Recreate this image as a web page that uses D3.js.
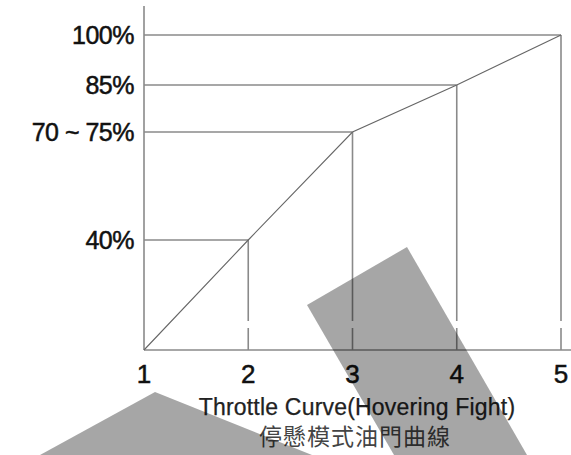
<!DOCTYPE html>
<html><head><meta charset="utf-8">
<script src="https://cdn.jsdelivr.net/npm/d3@7"></script>
<style>
html,body{margin:0;padding:0;background:#fff;}
svg{display:block;}
</style></head>
<body>
<script>
// Data
const steps = [1, 2, 3, 4, 5];
const throttle = [0, 40, 72.5, 85, 100];
const yLabels = ["", "40%", "70 ~ 75%", "85%", "100%"];
const xTickLabels = ["1", "2", "3", "4", "5"];
const titleEn = "Throttle Curve(Hovering Fight)";
const titleZh = "停懸模式油門曲線";

const W = 571, H = 455;
const svg = d3.select("body").append("svg").attr("width", W).attr("height", H);

const x = d3.scaleLinear().domain([1, 5]).range([144, 561]);
// schematic (non-uniform) vertical scale as drawn in the reference
const y = d3.scaleLinear().domain([0, 40, 72.5, 85, 100]).range([350, 240, 132, 85, 35]);

const pts = steps.map((s, i) => ({ s, v: throttle[i], label: yLabels[i] }));
const lineCol = "#8a8a8a";
const font = "'Liberation Sans', Arial, Helvetica, sans-serif";

// axes (drawn as plain lines)
svg.append("line").attr("x1", x(1)).attr("x2", W).attr("y1", y(0)).attr("y2", y(0))
  .attr("stroke", lineCol).attr("stroke-width", 1.6);
svg.append("line").attr("x1", x(1)).attr("x2", x(1)).attr("y1", y(0)).attr("y2", 6)
  .attr("stroke", lineCol).attr("stroke-width", 1.6);

// horizontal guides from y axis to each point
svg.selectAll("line.h").data(pts.filter(d => d.v > 0)).enter().append("line")
  .attr("x1", x(1)).attr("x2", d => x(d.s))
  .attr("y1", d => y(d.v)).attr("y2", d => y(d.v))
  .attr("stroke", lineCol).attr("stroke-width", 1.6);

// vertical drop lines (with small break near the bottom)
svg.selectAll("line.v").data(pts.filter(d => d.v > 0)).enter().append("line")
  .attr("x1", d => x(d.s)).attr("x2", d => x(d.s))
  .attr("y1", y(0)).attr("y2", d => y(d.v))
  .attr("stroke", lineCol).attr("stroke-width", 1.6)
  .attr("stroke-dasharray", "22,7,2000");

// the curve
svg.append("path").datum(pts)
  .attr("d", d3.line().x(d => x(d.s)).y(d => y(d.v)))
  .attr("fill", "none").attr("stroke", "#666").attr("stroke-width", 1.1);

// y labels
svg.selectAll("text.yl").data(pts.filter(d => d.label)).enter().append("text")
  .attr("x", 134).attr("y", d => y(d.v) + 9)
  .attr("text-anchor", "end")
  .attr("font-family", font).attr("font-size", 25).attr("letter-spacing", -0.5)
  .attr("fill", "#111").attr("stroke", "#111").attr("stroke-width", 0.5)
  .text(d => d.label);

// x tick labels
svg.selectAll("text.xl").data(steps).enter().append("text")
  .attr("x", d => x(d)).attr("y", 383)
  .attr("text-anchor", "middle")
  .attr("font-family", font).attr("font-size", 26)
  .attr("fill", "#111").attr("stroke", "#111").attr("stroke-width", 0.5)
  .text((d, i) => xTickLabels[i]);

// titles
svg.append("text").attr("x", 357).attr("y", 415).attr("text-anchor", "middle")
  .attr("font-family", font).attr("font-size", 23).attr("letter-spacing", 0.2)
  .attr("fill", "#222").attr("stroke", "#222").attr("stroke-width", 0.25)
  .text(titleEn);
svg.append("text").attr("x", 355).attr("y", 445).attr("text-anchor", "middle")
  .attr("font-family", "'Noto Sans CJK TC', 'Noto Sans CJK SC', sans-serif").attr("font-size", 23)
  .attr("letter-spacing", 1)
  .attr("fill", "#444").text(titleZh);

// translucent grey overlay shapes
const shapes = [
  [[407, 247], [307, 305], [394, 455], [527, 455]],
  [[155, 392], [40, 455], [312, 455]]
];
svg.selectAll("polygon").data(shapes).enter().append("polygon")
  .attr("points", d => d.map(p => p.join(",")).join(" "))
  .attr("fill", "#000").attr("fill-opacity", 0.35);
</script>
</body></html>
